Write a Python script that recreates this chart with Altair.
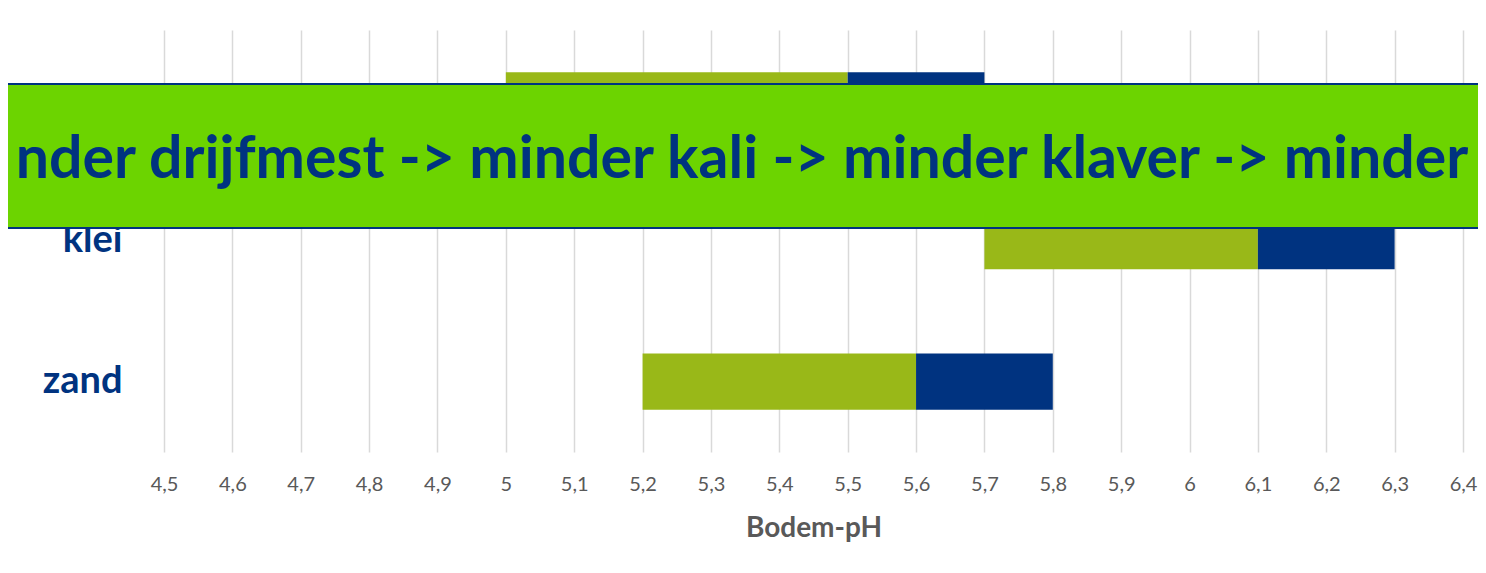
import altair as alt
import pandas as pd

# --- data ---
categories = ["veen", "klei", "zand"]
ondergrens = [5.0, 5.7, 5.2]
optimum = [5.5, 6.1, 5.6]
bovengrens = [5.7, 6.3, 5.8]
segment_names = ["laag", "hoog"]
tick_values = [4.5, 4.6, 4.7, 4.8, 4.9, 5.0, 5.1, 5.2, 5.3, 5.4,
               5.5, 5.6, 5.7, 5.8, 5.9, 6.0, 6.1, 6.2, 6.3, 6.4]
axis_title = "Bodem-pH"
banner_text = "nder drijfmest -> minder kali -> minder klaver -> minder"

rows = []
for c, a, b, e in zip(categories, ondergrens, optimum, bovengrens):
    rows.append({"grondsoort": c, "start": a, "end": b, "deel": segment_names[0]})
    rows.append({"grondsoort": c, "start": b, "end": e, "deel": segment_names[1]})
df = pd.DataFrame(rows)

NAVY = "#003380"
BAR_GREEN = "#99B818"
BANNER_GREEN = "#6CD400"
GREY = "#595959"

W, H = 1299, 422

bars = alt.Chart(df).mark_bar().encode(
    x=alt.X("start:Q",
            scale=alt.Scale(domain=[4.5, 6.4], nice=False, zero=False),
            axis=alt.Axis(values=tick_values,
                          labelExpr="replace(format(datum.value, '.1~f'), '.', ',')",
                          labelFont="Lato", labelFontSize=20, labelColor=GREY,
                          labelFlush=False, labelOverlap=False,
                          labelPadding=22, ticks=False, tickSize=0, domain=False,
                          grid=True, gridColor="#D9D9D9", gridWidth=1.5,
                          title=axis_title, titleFont="Lato", titleFontSize=28,
                          titleFontWeight="bold", titleColor=GREY, titlePadding=20)),
    x2="end:Q",
    y=alt.Y("grondsoort:N", sort=categories,
            scale=alt.Scale(paddingInner=0.6, paddingOuter=0.3),
            axis=alt.Axis(title=None, labelFont="Lato", labelFontSize=38,
                          labelFontWeight="bold", labelColor=NAVY,
                          labelPadding=42, ticks=False, domain=False, grid=False)),
    color=alt.Color("deel:N", sort=segment_names,
                    scale=alt.Scale(domain=segment_names, range=[BAR_GREEN, NAVY]),
                    legend=None),
)

banner = alt.Chart(alt.Data(values=[{}])).mark_rect(
    fill=BANNER_GREEN, stroke=NAVY, strokeWidth=2
).encode(
    x=alt.value(-200), x2=alt.value(W + 60),
    y=alt.value(54), y2=alt.value(198),
)

banner_label = alt.Chart(alt.Data(values=[{}])).mark_text(
    align="center", baseline="alphabetic", font="Lato", fontWeight="bold",
    fontSize=59, color=NAVY
).encode(
    x=alt.value(578), y=alt.value(148), text=alt.value(banner_text)
)

chart = alt.layer(bars, banner, banner_label).properties(
    width=W, height=H,
    background="white",
    autosize=alt.AutoSizeParams(type="none"),
    padding={"left": 156, "top": 22, "right": 15, "bottom": 100},
).configure_view(stroke=None)

chart.save("out.html", embed_options={"renderer": "svg", "actions": False})
